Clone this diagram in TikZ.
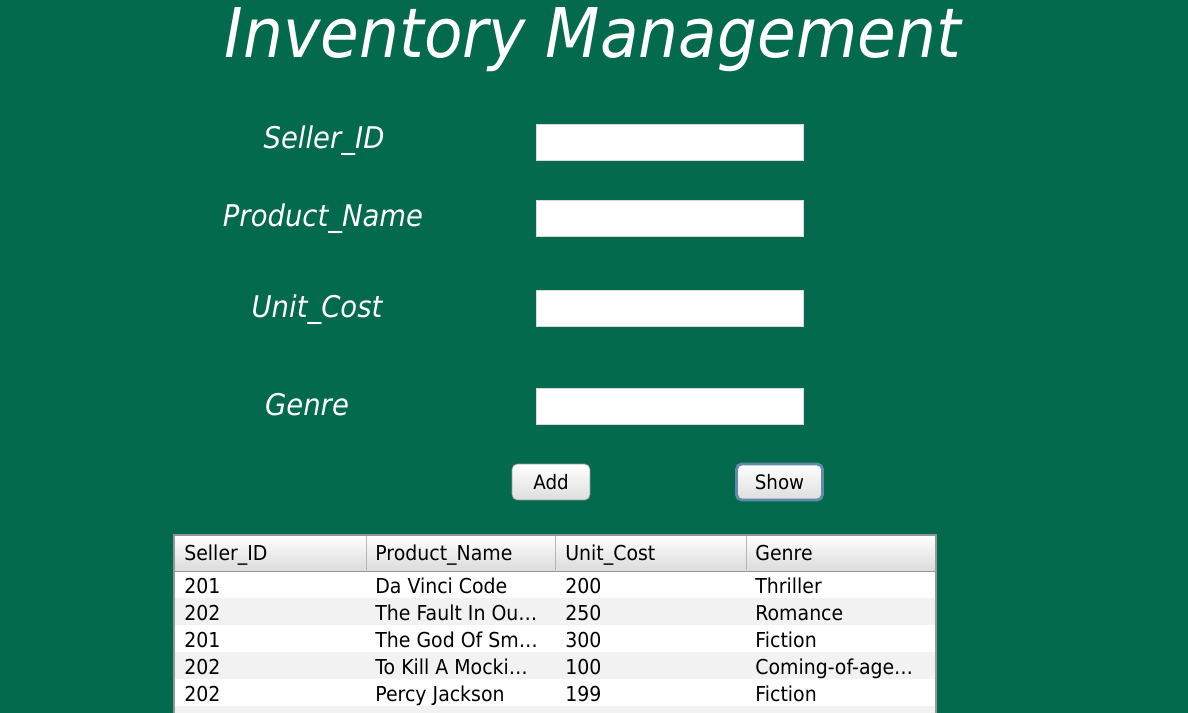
\documentclass[tikz,border=0pt]{standalone}
\usepackage{fontspec}
\setmainfont{DejaVu Sans}[FakeStretch=0.92]
\usetikzlibrary{positioning}
\definecolor{formgreen}{RGB}{3,106,78}
\definecolor{rowgray}{RGB}{242,242,242}
\definecolor{gridgray}{RGB}{150,150,150}
\definecolor{focusblue}{RGB}{96,140,170}

\begin{document}
\begin{tikzpicture}[x=0.02cm,y=-0.02cm]
    \tikzstyle{label}=[text=white, anchor=base, font=\fontsize{17}{20}\selectfont\itshape]
    \tikzstyle{field}=[draw=black!15, fill=white, minimum width=5.34cm, minimum height=0.72cm, inner sep=0pt]
    \tikzstyle{button}=[draw=black!40, rounded corners=3pt, top color=white, bottom color=black!13, minimum height=0.72cm, inner sep=0pt, font=\fontsize{11.3}{13}\selectfont]
    \tikzstyle{cell}=[anchor=base west, inner sep=0pt, font=\fontsize{11.7}{14}\selectfont]

    % Background of the form
    \path[use as bounding box, clip] (0,0) rectangle (1188,713);
    \fill[formgreen] (0,0) rectangle (1188,713);

    % Title
    \node[text=white, anchor=base, font=\fontsize{39}{46}\selectfont\itshape] (title) at (593,58) {Inventory Management};

    % Labels and text fields
    \node[label] (seller) at (324,149) {Seller\_ID};
    \node[label] (product) at (323,227) {Product\_Name};
    \node[label] (unit) at (317,317) {Unit\_Cost};
    \node[label] (genre) at (307,415) {Genre};

    \node[field] (sellerfield) at (669.5,142) {};
    \node[field] (productfield) at (669.5,218.5) {};
    \node[field] (unitfield) at (669.5,308) {};
    \node[field] (genrefield) at (669.5,406.5) {};

    % Buttons
    \node[button, minimum width=1.56cm] (add) at (551,482) {Add};
    \node[button, minimum width=1.72cm, draw=focusblue, line width=1.6pt] (show) at (779.5,482) {Show};

    % Table header
    \shade[top color=white, bottom color=black!14] (174,535) rectangle (936,571);
    \foreach \x in {366,555,746}
        \draw[gridgray!70] (\x,536) -- (\x,570);
    \foreach \name/\x [count=\c] in {Seller\_ID/184,Product\_Name/375,Unit\_Cost/565,Genre/755}
        \node[cell] (head-\c) at (\x,560) {\name};

    % Table rows
    \fill[white] (174,571) rectangle (936,713);
    \foreach \r in {2,4,6}
        \fill[rowgray] (174,{571+27*(\r-1)}) rectangle (936,{598+27*(\r-1)});
    \foreach \sid/\pname/\cost/\genre [count=\r] in {201/Da Vinci Code/200/Thriller,
        202/The Fault In Ou…/250/Romance,
        201/The God Of Sm…/300/Fiction,
        202/To Kill A Mocki…/100/Coming-of-age…,
        202/Percy Jackson/199/Fiction}
    {
        \node[cell] (id-\r) at (184,{593+27*(\r-1)}) {\sid};
        \node[cell] (name-\r) at (375,{593+27*(\r-1)}) {\pname};
        \node[cell] (cost-\r) at (565,{593+27*(\r-1)}) {\cost};
        \node[cell] (genre-\r) at (755,{593+27*(\r-1)}) {\genre};
    }

    % Table border
    \draw[gridgray] (174,571) -- (936,571);
    \draw[gridgray, line width=1pt] (174,713) -- (174,535) -- (936,535) -- (936,713);
\end{tikzpicture}
\end{document}
